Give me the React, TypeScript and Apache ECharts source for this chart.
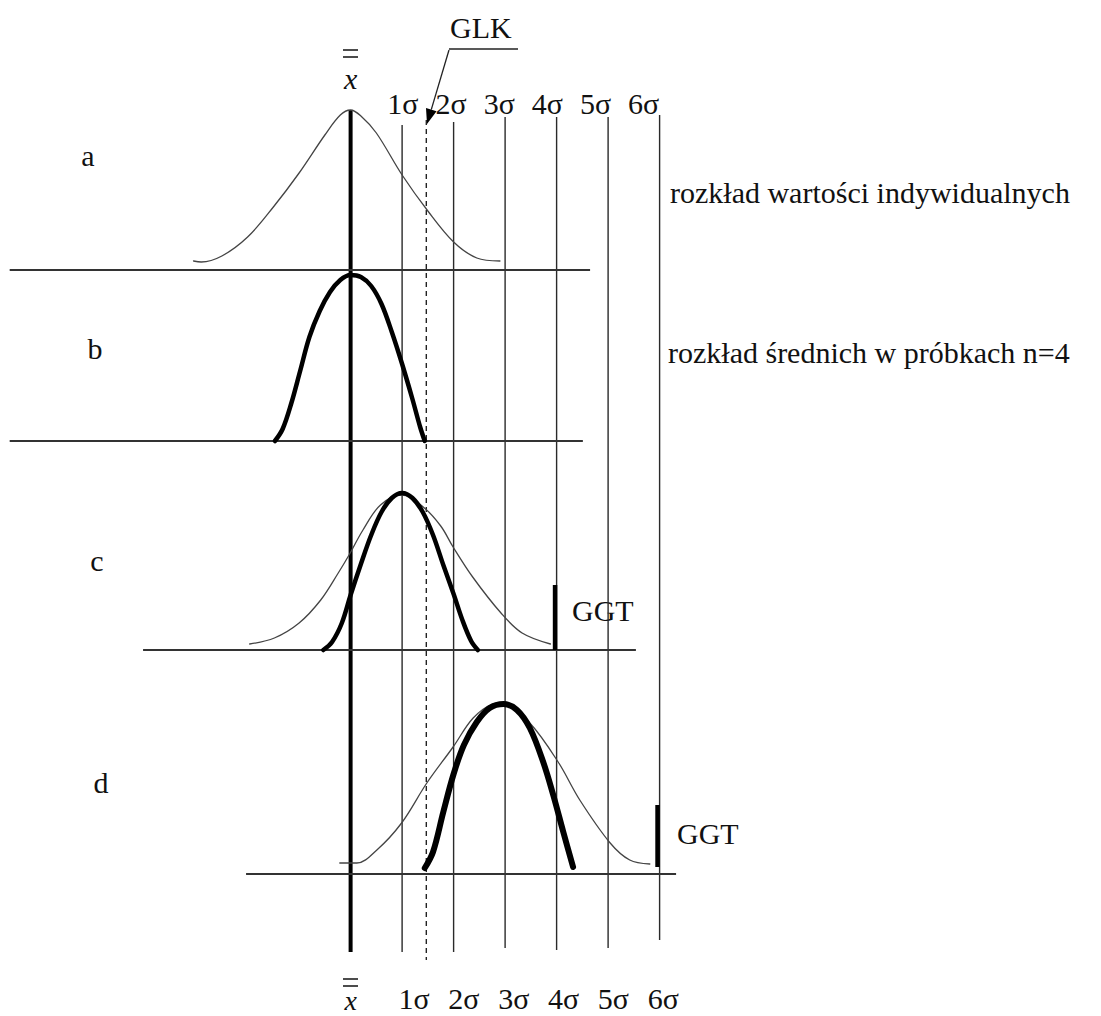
import React, { useEffect, useRef } from "react";
import * as echarts from "echarts";

// ---------- data (x in σ units, 0 = grand mean x̿; y = height above each panel's baseline) ----------
const sigmaPositions = [0, 1, 2, 3, 4, 5, 6];
const sigmaLineTops = [110, 125, 122, 117, 117, 117, 115];
const sigmaLineBottoms = [952, 952, 952, 948, 950, 948, 940];
const glkPosition = 1.47;
const glkLineSpan = [120, 960];

const sigmaTickValues = [1, 2, 3, 4, 5, 6];
const sigmaTickLabels = ["1σ", "2σ", "3σ", "4σ", "5σ", "6σ"];

// panel a: distribution of individual values
const curveA = [
  [-3.05, 9], [-2.9, 8], [-2.5, 14], [-2.0, 33], [-1.5, 63], [-1.0, 97], [-0.5, 135],
  [-0.2, 155], [0, 160], [0.2, 154], [0.5, 137], [1.0, 95], [1.5, 59], [2.0, 28],
  [2.45, 12], [2.9, 9],
];
// panel b: distribution of sample means n=4
const curveB = [
  [-1.47, 0], [-1.32, 12], [-1.15, 38], [-0.98, 70], [-0.8, 104], [-0.6, 130], [-0.4, 149],
  [-0.2, 161], [0, 166], [0.2, 164], [0.4, 155], [0.6, 137], [0.8, 109], [1.0, 77],
  [1.2, 42], [1.35, 14], [1.44, 0],
];
// panel c
const curveCIndividual = [
  [-1.96, 6], [-1.48, 12], [-1.0, 27], [-0.58, 50], [-0.24, 77], [-0.03, 95], [0.24, 120],
  [0.58, 145], [1.0, 155], [1.41, 143], [1.75, 124], [1.99, 103], [2.37, 73], [2.92, 37],
  [3.33, 17], [3.88, 6],
];
const curveCMeans = [
  [-0.53, 0], [-0.36, 8], [-0.17, 27], [0, 55], [0.2, 86], [0.4, 115], [0.6, 138],
  [0.8, 152], [1.0, 157], [1.2, 152], [1.4, 138], [1.6, 115], [1.8, 85], [2.0, 56],
  [2.17, 30], [2.34, 9], [2.47, 0],
];
// panel d
const curveDIndividual = [
  [-0.21, 11], [0.12, 11], [0.51, 24], [0.99, 51], [1.48, 91], [1.99, 127], [2.38, 156],
  [2.77, 170], [2.97, 171], [3.48, 151], [4.03, 112], [4.45, 74], [5.04, 31], [5.42, 14],
  [5.81, 10],
];
const curveDMeans = [
  [1.44, 6], [1.6, 22], [1.8, 62], [2.0, 100], [2.2, 129], [2.45, 152], [2.7, 166],
  [2.97, 170], [3.23, 164], [3.48, 146], [3.74, 112], [3.94, 78], [4.13, 42], [4.32, 7],
];
// horizontal base lines [from σ, to σ]
const baselineA = [-6.62, 4.65];
const baselineB = [-6.62, 4.51];
const baselineC = [-4.03, 5.54];
const baselineD = [-2.03, 6.32];
// GGT limits [σ, from height, to height]
const ggtC = [3.97, 0, 65];
const ggtD = [5.96, 7, 69];

// ---------- layout ----------
const W = 1101;
const H = 1016;
const X_MIN = -6.808;
const X_MAX = 14.571;
const PANEL_BASE_ROWS = [270, 441, 650, 874];
const PANEL_H = 200;
const FAMILY = "Liberation Serif, Times New Roman, serif";
const INK = "#111";

function txt(text: string, x: number, y: number, extra: any = {}) {
  return {
    type: "text",
    x,
    y,
    silent: true,
    style: {
      text,
      fontFamily: FAMILY,
      fontSize: 30,
      fill: INK,
      align: "left",
      verticalAlign: "middle",
      ...extra,
    },
  };
}

function bar(x1: number, x2: number, y: number) {
  return {
    type: "line",
    silent: true,
    shape: { x1, y1: y, x2, y2: y },
    style: { stroke: INK, lineWidth: 1.5 },
  };
}

export default function App() {
  const ref = useRef<HTMLDivElement>(null);

  useEffect(() => {
    if (!ref.current) return;
    const chart = echarts.init(ref.current, undefined, { renderer: "svg" });

    const grids: any[] = [];
    const xAxes: any[] = [];
    const yAxes: any[] = [];
    const hiddenX = (gridIndex: number) => ({
      gridIndex, type: "value", min: X_MIN, max: X_MAX, show: false,
    });

    // grid 0: overlay for vertical reference lines (rows from top)
    grids.push({ left: 0, right: 0, top: 0, height: H, outerBoundsMode: "none" });
    xAxes.push(hiddenX(0));
    yAxes.push({ gridIndex: 0, type: "value", min: 0, max: H, inverse: true, show: false });

    // grids 1..4: panels a..d
    PANEL_BASE_ROWS.forEach((base, i) => {
      grids.push({ left: 0, right: 0, top: base - PANEL_H, height: PANEL_H, outerBoundsMode: "none" });
      xAxes.push(hiddenX(i + 1));
      yAxes.push({ gridIndex: i + 1, type: "value", min: 0, max: PANEL_H, show: false });
    });

    // grids 5,6: tick label rows (top and bottom)
    const labelAxis = (gridIndex: number, min: number, max: number) => ({
      gridIndex,
      type: "value",
      min,
      max,
      position: "bottom",
      axisLine: { show: false },
      axisTick: { show: false },
      splitLine: { show: false },
      axisLabel: {
        customValues: sigmaTickValues,
        formatter: (v: number) => sigmaTickLabels[Math.round(v) - 1] ?? "",
        margin: 0,
        verticalAlign: "middle",
        fontFamily: FAMILY,
        fontSize: 30,
        color: INK,
      },
    });
    grids.push({ left: 0, right: 0, top: 0, height: 103, outerBoundsMode: "none" });
    xAxes.push(labelAxis(5, -7.37, 15.501));
    yAxes.push({ gridIndex: 5, type: "value", min: 0, max: 1, show: false });
    grids.push({ left: 0, right: 0, top: 0, height: 998, outerBoundsMode: "none" });
    xAxes.push(labelAxis(6, -7.31, 14.785));
    yAxes.push({ gridIndex: 6, type: "value", min: 0, max: 1, show: false });

    const series: any[] = [];
    const seg = (idx: number, data: number[][], style: any, z = 2, smooth: any = false) => ({
      type: "line",
      xAxisIndex: idx,
      yAxisIndex: idx,
      data,
      symbol: "none",
      smooth,
      clip: false,
      silent: true,
      z,
      lineStyle: { cap: "round", join: "round", ...style },
    });

    // vertical lines
    sigmaPositions.forEach((s, i) => {
      series.push(
        seg(0, [[s, sigmaLineTops[i]], [s, sigmaLineBottoms[i]]], {
          color: i === 0 ? "#000" : "#2a2a2a",
          width: i === 0 ? 4 : 1.4,
          cap: "butt",
        }, 1)
      );
    });
    series.push(
      seg(0, [[glkPosition, glkLineSpan[0]], [glkPosition, glkLineSpan[1]]], {
        color: "#222", width: 1.4, type: [5, 4], cap: "butt",
      }, 1)
    );

    // base lines
    [baselineA, baselineB, baselineC, baselineD].forEach((b, i) => {
      series.push(seg(i + 1, [[b[0], 0], [b[1], 0]], { color: "#333", width: 1.8, cap: "butt" }, 1));
    });

    const thin = { color: "#444", width: 1.3 };
    series.push(seg(1, curveA, thin, 3, 0.35));
    series.push(seg(2, curveB, { color: "#000", width: 4.5 }, 4, 0.35));
    series.push(seg(3, curveCIndividual, thin, 3, 0.35));
    series.push(seg(3, curveCMeans, { color: "#000", width: 4.5 }, 4, 0.35));
    series.push(seg(4, curveDIndividual, thin, 3, 0.35));
    series.push(seg(4, curveDMeans, { color: "#000", width: 6 }, 4, 0.35));

    // GGT limits
    series.push(seg(3, [[ggtC[0], ggtC[1]], [ggtC[0], ggtC[2]]], { color: "#000", width: 4.5, cap: "butt" }, 5));
    series.push(seg(4, [[ggtD[0], ggtD[1]], [ggtD[0], ggtD[2]]], { color: "#000", width: 4.5, cap: "butt" }, 5));

    // GLK arrow geometry
    const sx = 449, sy = 50, tx = 427, ty = 124;
    const len = Math.hypot(tx - sx, ty - sy);
    const ux = (tx - sx) / len, uy = (ty - sy) / len;
    const bx = tx - 15 * ux, by = ty - 15 * uy;
    const nx = -uy, ny = ux;

    const graphic: any[] = [
      txt("a", 88, 155, { align: "center" }),
      txt("b", 95, 348, { align: "center" }),
      txt("c", 97, 560, { align: "center" }),
      txt("d", 101, 782, { align: "center" }),
      txt("rozkład wartości indywidualnych", 670, 192),
      txt("rozkład średnich w próbkach n=4", 668, 352),
      txt("GGT", 572, 610),
      txt("GGT", 677, 833),
      txt("GLK", 450, 27),
      // grand mean x̿ (double bar over italic x), top and bottom
      bar(343, 358, 50),
      bar(343, 358, 57),
      txt("x", 350.6, 78, { align: "center", fontStyle: "italic" }),
      bar(343, 358, 979),
      bar(343, 358, 986),
      txt("x", 350.6, 1000, { align: "center", fontStyle: "italic", fontSize: 28 }),
      // GLK leader
      {
        type: "line", silent: true,
        shape: { x1: 449, y1: 49, x2: 518, y2: 49 },
        style: { stroke: "#222", lineWidth: 1.5 },
      },
      {
        type: "line", silent: true,
        shape: { x1: sx, y1: sy, x2: bx, y2: by },
        style: { stroke: "#222", lineWidth: 1.3 },
      },
      {
        type: "polygon", silent: true,
        shape: {
          points: [
            [tx, ty],
            [bx + 5.5 * nx, by + 5.5 * ny],
            [bx - 5.5 * nx, by - 5.5 * ny],
          ],
        },
        style: { fill: "#000" },
      },
    ];

    chart.setOption({
      animation: false,
      backgroundColor: "#fff",
      grid: grids,
      xAxis: xAxes,
      yAxis: yAxes,
      series,
      graphic,
    });

    return () => chart.dispose();
  }, []);

  return (
    <div
      ref={ref}
      style={{ position: "absolute", left: 0, top: 0, width: W, height: H }}
    />
  );
}
